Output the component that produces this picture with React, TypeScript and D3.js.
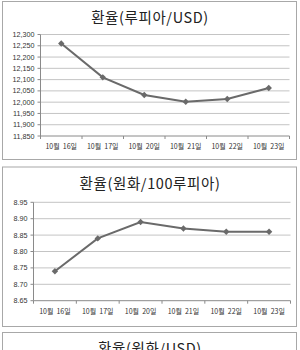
import React from "react";
import * as d3 from "d3";

const dates = ["10월 16일", "10월 17일", "10월 20일", "10월 21일", "10월 22일", "10월 23일"];
const rupiahPerUsd = [12260, 12110, 12032, 12002, 12014, 12063];
const rupiahTicks = [11850, 11900, 11950, 12000, 12050, 12100, 12150, 12200, 12250, 12300];
const wonPer100Rupiah = [8.74, 8.84, 8.89, 8.87, 8.86, 8.86];
const wonTicks = [8.65, 8.7, 8.75, 8.8, 8.85, 8.9, 8.95];
const titles = ["환율(루피아/USD)", "환율(원화/100루피아)", "환율(원화/USD)"];

const KFONT = "'Noto Sans CJK KR', 'Noto Sans', sans-serif";
const NFONT = "'Liberation Sans', Arial, sans-serif";

type ChartProps = {
  top: number;
  bottom: number;
  title: string;
  values?: number[];
  ticks?: number[];
  fmt?: (v: number) => string;
  plot?: { left: number; right: number; top: number; bottom: number };
};

function Chart({ top, bottom, title, values, ticks, fmt, plot }: ChartProps) {
  const frameLeft = 2.5;
  const frameRight = 296.5;
  let body: React.ReactNode = null;
  if (values && ticks && fmt && plot) {
    const x = d3.scaleBand<string>().domain(dates).range([plot.left, plot.right]).padding(0);
    const y = d3
      .scaleLinear()
      .domain([ticks[0], ticks[ticks.length - 1]])
      .range([plot.bottom, plot.top]);
    const line = d3
      .line<number>()
      .x((_, i) => (x(dates[i]) as number) + x.bandwidth() / 2)
      .y((d) => y(d));
    const boundaries = d3.range(dates.length + 1).map((i) => plot.left + i * x.bandwidth());
    body = (
      <g>
        {ticks.map((t) => (
          <g key={t}>
            {t !== ticks[0] && (
              <line x1={plot.left} x2={plot.right} y1={y(t)} y2={y(t)} stroke="#c4c4c4" strokeWidth={1} />
            )}
            <line x1={plot.left - 3} x2={plot.left} y1={y(t)} y2={y(t)} stroke="#8a8a8a" strokeWidth={1} />
            <text
              x={plot.left - 6}
              y={y(t)}
              dy="0.35em"
              textAnchor="end"
              fontFamily={NFONT}
              fontSize={7.2}
              fill="#333"
            >
              {fmt(t)}
            </text>
          </g>
        ))}
        <line x1={plot.left} x2={plot.left} y1={plot.top} y2={plot.bottom} stroke="#8a8a8a" strokeWidth={1} />
        <line x1={plot.left} x2={plot.right} y1={plot.bottom} y2={plot.bottom} stroke="#8a8a8a" strokeWidth={1} />
        {boundaries.map((bx, i) => (
          <line key={i} x1={bx} x2={bx} y1={plot.bottom} y2={plot.bottom + 3} stroke="#8a8a8a" strokeWidth={1} />
        ))}
        {dates.map((d) => (
          <text
            key={d}
            x={(x(d) as number) + x.bandwidth() / 2}
            y={plot.bottom + 13}
            textAnchor="middle"
            fontFamily={KFONT}
            fontSize={7}
            fill="#333"
            style={{ whiteSpace: "pre" }}
          >
            {d.replace(" ", "  ")}
          </text>
        ))}
        <path d={line(values) || ""} fill="none" stroke="#6a6a6a" strokeWidth={2} />
        {values.map((v, i) => {
          const cx = (x(dates[i]) as number) + x.bandwidth() / 2;
          const cy = y(v);
          const s = 3.2;
          return (
            <path
              key={i}
              d={`M${cx},${cy - s}L${cx + s},${cy}L${cx},${cy + s}L${cx - s},${cy}Z`}
              fill="#6a6a6a"
            />
          );
        })}
      </g>
    );
  }
  return (
    <g>
      <rect
        x={frameLeft}
        y={top + 0.5}
        width={frameRight - frameLeft}
        height={bottom - top}
        fill="#fff"
        stroke="#a8a8a8"
        strokeWidth={1}
      />
      <text
        x={150}
        y={top + 22}
        textAnchor="middle"
        fontFamily={KFONT}
        fontSize={14.5}
        fill="#222"
        letterSpacing={0.6}
      >
        {title}
      </text>
      {body}
    </g>
  );
}

export default function App() {
  return (
    <svg
      width={300}
      height={350}
      style={{ position: "absolute", left: 0, top: 0, background: "#fff" }}
    >
      <rect x={0} y={0} width={300} height={350} fill="#fff" />
      <Chart
        top={1}
        bottom={159}
        title={titles[0]}
        values={rupiahPerUsd}
        ticks={rupiahTicks}
        fmt={d3.format(",")}
        plot={{ left: 40.5, right: 289.5, top: 34.5, bottom: 136 }}
      />
      <Chart
        top={166.5}
        bottom={326}
        title={titles[1]}
        values={wonPer100Rupiah}
        ticks={wonTicks}
        fmt={d3.format(".2f")}
        plot={{ left: 33.5, right: 290.5, top: 202.3, bottom: 300.7 }}
      />
      <Chart top={332} bottom={420} title={titles[2]} />
    </svg>
  );
}
